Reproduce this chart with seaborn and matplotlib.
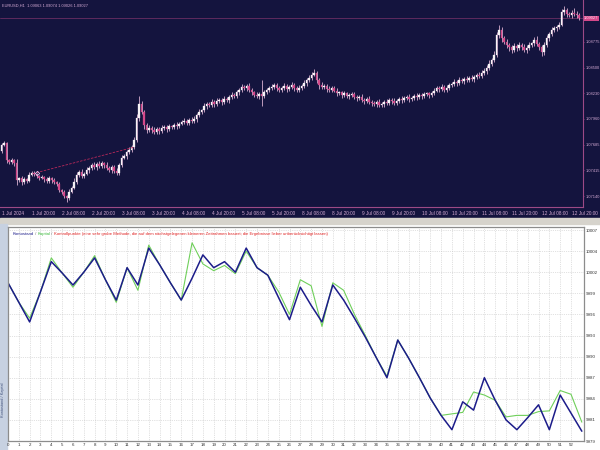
import numpy as np
import pandas as pd
import seaborn as sns
import matplotlib.pyplot as plt
from matplotlib.patches import Rectangle
from matplotlib.offsetbox import TextArea, HPacker, AnchoredOffsetbox

sns.set_style("white")
plt.rcParams['font.family'] = ['Liberation Sans', 'DejaVu Sans']

# ---------------- data: EURUSD H1 closes (1 Jul 08:00 .. 12 Jul 23:00) ----------------
closes = [
    1.0768, 1.0770, 1.0752, 1.0750, 1.0752, 1.0749, 1.0731, 1.0733, 1.0729, 1.0732, 1.0730, 1.0737,
    1.0739, 1.0738, 1.0735, 1.0733, 1.0734, 1.0732, 1.0730, 1.0733, 1.0731, 1.0729, 1.0727, 1.0721,
    1.0719, 1.0714, 1.0712, 1.0719, 1.0723, 1.0729, 1.0737, 1.0740, 1.0735, 1.0738, 1.0742, 1.0744,
    1.0747, 1.0745, 1.0748, 1.0746, 1.0749, 1.0747, 1.0744, 1.0742, 1.0745, 1.0741, 1.0739, 1.0747,
    1.0755, 1.0757, 1.0761, 1.0763, 1.0766, 1.0774, 1.0797, 1.0812, 1.0803, 1.0790, 1.0784, 1.0786,
    1.0784, 1.0782, 1.0785, 1.0783, 1.0786, 1.0787, 1.0785, 1.0788, 1.0787, 1.0790, 1.0788, 1.0791,
    1.0793, 1.0794, 1.0792, 1.0795, 1.0794, 1.0796, 1.0800, 1.0803, 1.0805, 1.0810, 1.0812, 1.0811,
    1.0814, 1.0812, 1.0815, 1.0816, 1.0814, 1.0817, 1.0816, 1.0819, 1.0821, 1.0820, 1.0824, 1.0827,
    1.0830, 1.0829, 1.0831, 1.0827, 1.0824, 1.0821, 1.0820, 1.0822, 1.0820, 1.0824, 1.0827, 1.0829,
    1.0830, 1.0832, 1.0829, 1.0827, 1.0829, 1.0831, 1.0828, 1.0830, 1.0832, 1.0829, 1.0827, 1.0829,
    1.0831, 1.0834, 1.0837, 1.0839, 1.0843, 1.0845, 1.0837, 1.0832, 1.0830, 1.0831, 1.0828, 1.0827,
    1.0829, 1.0826, 1.0823, 1.0824, 1.0821, 1.0823, 1.0820, 1.0821, 1.0822, 1.0819, 1.0818, 1.0819,
    1.0816, 1.0815, 1.0817, 1.0814, 1.0813, 1.0812, 1.0814, 1.0811, 1.0812, 1.0814, 1.0813, 1.0816,
    1.0815, 1.0813, 1.0815, 1.0817, 1.0816, 1.0818, 1.0819, 1.0817, 1.0818, 1.0820, 1.0819, 1.0821,
    1.0820, 1.0822, 1.0823, 1.0821, 1.0823, 1.0826, 1.0829, 1.0828, 1.0830, 1.0827, 1.0829, 1.0832,
    1.0833, 1.0835, 1.0834, 1.0837, 1.0836, 1.0838, 1.0837, 1.0839, 1.0838, 1.0840, 1.0843, 1.0841,
    1.0845, 1.0847, 1.0850, 1.0854, 1.0858, 1.0864, 1.0885, 1.0890, 1.0882, 1.0878, 1.0874, 1.0872,
    1.0869, 1.0873, 1.0871, 1.0874, 1.0872, 1.0869, 1.0871, 1.0874, 1.0876, 1.0880, 1.0875, 1.0872,
    1.0867, 1.0874, 1.0882, 1.0886, 1.0890, 1.0892, 1.0893, 1.0896, 1.0909, 1.0911, 1.0907, 1.0906,
    1.0908, 1.0907, 1.0906, 1.09027,
]
first_open = 1.0762

# wick lengths in pips
wick_up = [
    2, 3, 2, 1, 3, 2, 4, 1, 2, 2, 1, 3, 2, 2, 1, 2, 3, 1, 2, 2, 1, 2, 1, 2,
    1, 2, 1, 3, 2, 4, 3, 2, 3, 2, 3, 2, 2, 3, 2, 3, 2, 1, 3, 2, 2, 2, 3, 2,
    3, 2, 2, 3, 2, 3, 4, 8, 3, 2, 2, 3, 2, 3, 2, 2, 3, 2, 2, 3, 2, 2, 3, 2,
    2, 3, 2, 2, 3, 3, 2, 3, 2, 3, 2, 2, 3, 2, 3, 2, 2, 3, 2, 2, 3, 2, 3, 2,
    3, 2, 2, 3, 2, 2, 3, 2, 15, 3, 2, 2, 3, 2, 2, 2, 2, 3, 2, 2, 3, 2, 2, 3,
    2, 3, 2, 3, 3, 4, 2, 2, 3, 2, 2, 3, 2, 2, 3, 2, 2, 3, 2, 2, 2, 3, 2, 2,
    3, 2, 2, 3, 2, 2, 2, 3, 2, 2, 3, 2, 2, 3, 2, 2, 3, 2, 2, 3, 2, 2, 3, 2,
    2, 3, 2, 2, 3, 3, 2, 2, 3, 2, 3, 2, 2, 3, 2, 3, 2, 2, 3, 2, 3, 2, 2, 3,
    3, 3, 3, 4, 3, 4, 3, 6, 3, 2, 3, 2, 2, 3, 2, 3, 2, 3, 3, 3, 2, 3, 4, 2,
    2, 3, 3, 2, 3, 2, 2, 3, 3, 5, 3, 2, 3, 6, 3, 2,
]
wick_dn = [
    2, 1, 3, 2, 2, 3, 5, 2, 3, 2, 2, 1, 2, 3, 2, 2, 1, 3, 2, 2, 3, 2, 2, 3,
    3, 2, 4, 2, 2, 1, 2, 3, 2, 2, 2, 3, 2, 2, 3, 2, 2, 3, 2, 2, 3, 2, 2, 2,
    2, 2, 3, 2, 2, 2, 2, 3, 2, 5, 3, 2, 3, 2, 2, 3, 2, 2, 3, 2, 2, 2, 3, 2,
    2, 2, 3, 2, 2, 2, 3, 2, 2, 2, 3, 2, 2, 3, 2, 2, 3, 2, 2, 3, 2, 2, 2, 3,
    2, 2, 3, 2, 3, 2, 2, 3, 10, 2, 2, 3, 2, 2, 3, 2, 2, 2, 3, 2, 2, 3, 2, 2,
    2, 2, 3, 2, 2, 2, 3, 4, 2, 2, 3, 2, 2, 2, 3, 2, 3, 2, 2, 3, 2, 2, 3, 2,
    2, 3, 2, 2, 3, 2, 3, 2, 2, 3, 2, 2, 3, 2, 2, 2, 3, 2, 2, 3, 2, 2, 3, 2,
    3, 2, 2, 3, 2, 2, 2, 3, 2, 2, 3, 2, 2, 2, 3, 2, 2, 3, 2, 2, 2, 3, 2, 2,
    2, 2, 3, 2, 2, 2, 2, 3, 4, 3, 3, 4, 3, 2, 3, 2, 3, 2, 3, 2, 2, 3, 2, 3,
    4, 3, 2, 3, 2, 2, 3, 2, 2, 3, 3, 2, 3, 2, 3, 2,
]

time_labels = ["1 Jul 2024", "1 Jul 20:00", "2 Jul 08:00", "2 Jul 20:00", "3 Jul 08:00",
               "3 Jul 20:00", "4 Jul 08:00", "4 Jul 20:00", "5 Jul 08:00", "5 Jul 20:00",
               "8 Jul 08:00", "8 Jul 20:00", "9 Jul 08:00", "9 Jul 20:00", "10 Jul 08:00",
               "10 Jul 20:00", "11 Jul 08:00", "11 Jul 20:00", "12 Jul 08:00", "12 Jul 20:00"]
price_ticks = [1.08775, 1.08500, 1.08230, 1.07960, 1.07685, 1.07415, 1.07140]
header = "EURUSD,H1  1.09063 1.09074 1.09026 1.09027"

# drawn trend line on the chart (bar index, price)
trend_x = [14, 53]
trend_y = [1.0739, 1.0766]

# ---------------- data: tester graph (balance / equity per trade) ----------------
trades = list(range(54))
balance = [10000.0, 9997.4, 9994.8, 9998.8, 10002.8, 10001.3, 9999.7, 10001.4, 10003.3, 10000.4,
           9997.7, 10002.0, 9999.7, 10004.6, 10002.4, 10000.0, 9997.7, 10000.6, 10003.7, 10002.0,
           10002.8, 10001.4, 10004.6, 10002.0, 10001.0, 9998.0, 9995.1, 9999.4, 9997.0, 9994.8,
           9999.7, 9997.7, 9995.3, 9992.8, 9990.1, 9987.4, 9992.4, 9990.0, 9987.4, 9984.7,
           9982.4, 9980.5, 9984.2, 9983.1, 9987.4, 9984.4, 9981.8, 9980.5, 9982.1, 9983.8,
           9980.5, 9985.1, 9982.7, 9980.3]
equity = [10000.0, 9997.4, 9995.3, 9998.8, 10003.3, 10001.3, 9999.4, 10001.4, 10003.6, 10000.4,
          9997.4, 10002.0, 9999.0, 10005.0, 10002.4, 10000.0, 9997.7, 10005.3, 10002.5, 10001.6,
          10002.3, 10001.2, 10004.2, 10002.0, 10001.0, 9998.8, 9995.8, 10000.4, 9999.6, 9994.2,
          10000.0, 9999.0, 9995.8, 9993.0, 9990.1, 9987.6, 9992.4, 9990.0, 9987.4, 9984.7,
          9982.4, 9982.6, 9982.8, 9985.5, 9985.1, 9984.4, 9982.2, 9982.4, 9982.4, 9982.9,
          9983.0, 9985.7, 9985.2, 9981.5]
bal_tick_labels = ["9979", "9981", "9984", "9987", "9990", "9993", "9996", "9999",
                   "10002", "10004", "10007"]

# ---------------- colours ----------------
NAVY = '#14143e'
PINK = '#d4488a'
WICK = '#d9b0d0'
AXIS_PINK = '#9c4a86'
LABEL_PINK = '#d2a8d2'
BLUE = '#1c1c8a'
GREEN = '#6fcf5a'
RED = '#e02424'

W, H = 600, 450
fig = plt.figure(figsize=(6, 4.5), dpi=100)
fig.patch.set_facecolor('white')


def px_rect(x0, y0, x1, y1):
    # pixel box (origin top-left) -> figure fraction rect
    return [x0 / W, 1 - y1 / H, (x1 - x0) / W, (y1 - y0) / H]


# backgrounds: dark chart window, grey separator, blue-grey strip
fig.patches.append(Rectangle((0, 1 - 218 / H), 1, 218 / H, transform=fig.transFigure,
                             color=NAVY, zorder=-10))
fig.patches.append(Rectangle((0, 1 - 224 / H), 1, 6 / H, transform=fig.transFigure,
                             color='#d6d3cc', zorder=-10))
fig.patches.append(Rectangle((0, 0), 7 / W, 1 - 224 / H, transform=fig.transFigure,
                             color='#c7d1e1', zorder=-10))
fig.text(3.5 / W, 1 - 400 / H, "Kontostand / Kapital", rotation=90, fontsize=2.8,
         color='#40507a', ha='center', va='center')

# ---------------- top: candlestick chart ----------------
ax1 = fig.add_axes(px_rect(0, 0, 583, 207))
ax1.set_facecolor(NAVY)
n = len(closes)
x = np.arange(n)
c = np.array(closes)
o = np.array([first_open] + closes[:-1])
hi = np.maximum(o, c) + np.array(wick_up) * 1e-4
lo = np.minimum(o, c) - np.array(wick_dn) * 1e-4
up = c >= o

ax1.vlines(x, lo, hi, color=WICK, lw=0.6, zorder=2)
body = np.maximum(np.abs(c - o), 0.00004)
ax1.bar(x, body, bottom=np.minimum(o, c), width=0.62,
        color=np.where(up, '#f4f0f4', PINK), edgecolor=np.where(up, '#ffffff', PINK),
        linewidth=0.2, zorder=3)

ax1.plot(trend_x, trend_y, color='#b8285a', lw=0.6, ls=(0, (3, 1.5)), zorder=4)
ax1.plot(trend_x[0], trend_y[0], marker='D', ms=2.2, mfc='none', mec='#e8c8f0', mew=0.6, zorder=5)

ax1.axhline(closes[-1], color='#6a2e62', lw=0.6, zorder=1)
ax1.text(1.002, closes[-1], f"{closes[-1]:.5f}", transform=ax1.get_yaxis_transform(),
         ha='left', va='center', fontsize=2.9, color='#ffe0f0', clip_on=False,
         bbox=dict(fc=PINK, ec='none', pad=0.4))
ax1.text(0.004, 0.985, header, transform=ax1.transAxes, ha='left', va='top',
         fontsize=2.9, color=LABEL_PINK)

ax1.set_xlim(-0.6, 232.6)
ax1.set_ylim(1.07026, 1.0922)
ax1.set_xticks(np.arange(0, n, 12)[:len(time_labels)])
ax1.set_xticklabels(time_labels, ha='left')
ax1.yaxis.tick_right()
ax1.set_yticks(price_ticks)
ax1.set_yticklabels([f"{p:.5f}" for p in price_ticks])
ax1.tick_params(axis='x', colors=AXIS_PINK, labelcolor=LABEL_PINK, labelsize=3.4,
                length=2, width=0.5, pad=1.2)
ax1.tick_params(axis='y', colors=AXIS_PINK, labelcolor=LABEL_PINK, labelsize=2.9,
                length=1, width=0.5, pad=0.6)
for s in ['top', 'left']:
    ax1.spines[s].set_visible(False)
for s in ['bottom', 'right']:
    ax1.spines[s].set_color(AXIS_PINK)
    ax1.spines[s].set_linewidth(0.8)
ax1.grid(False)

# ---------------- bottom: tester graph ----------------
ax2 = fig.add_axes(px_rect(8, 227, 584, 441))
df = pd.DataFrame({'trade': trades, 'Kontostand': balance, 'Kapital': equity})
sns.lineplot(data=df, x='trade', y='Kapital', color=GREEN, lw=0.8, ax=ax2)
sns.lineplot(data=df, x='trade', y='Kontostand', color=BLUE, lw=1.1, ax=ax2)

ax2.set_xlim(0, 53.2)
ax2.set_ylim(9979.0, 10007.4)
ax2.set_xticks(trades[:53])
ax2.set_xticklabels([str(t) for t in trades[:53]])
ax2.yaxis.tick_right()
ax2.set_yticks(np.linspace(9979, 10007, len(bal_tick_labels)))
ax2.set_yticklabels(bal_tick_labels)
ax2.tick_params(axis='both', labelsize=3.2, colors='#303030', length=0, pad=1.2)
ax2.set_xlabel('')
ax2.set_ylabel('')
ax2.grid(True, ls=':', color='#c4c4c4', lw=0.5)
for s in ax2.spines.values():
    s.set_color('#8c8c8c')
    s.set_linewidth(0.9)

parts = [("Kontostand", BLUE), (" / ", '#707070'), ("Kapital", '#3cb83c'), (" / ", '#707070'),
         ("Kontrollpunkte (eine sehr grobe Methode, die auf dem nächstgelegenen kleineren "
          "Zeitrahmen basiert; die Ergebnisse lieber unberücksichtigt lassen)", RED)]
boxes = [TextArea(t, textprops=dict(color=col, fontsize=3.1)) for t, col in parts]
legend = AnchoredOffsetbox(loc='upper left', child=HPacker(children=boxes, align='baseline', pad=0, sep=0),
                           pad=0.15, borderpad=0.2, frameon=False,
                           bbox_to_anchor=(0, 1), bbox_transform=ax2.transAxes)
ax2.add_artist(legend)

fig.savefig('out.png', dpi=100)
